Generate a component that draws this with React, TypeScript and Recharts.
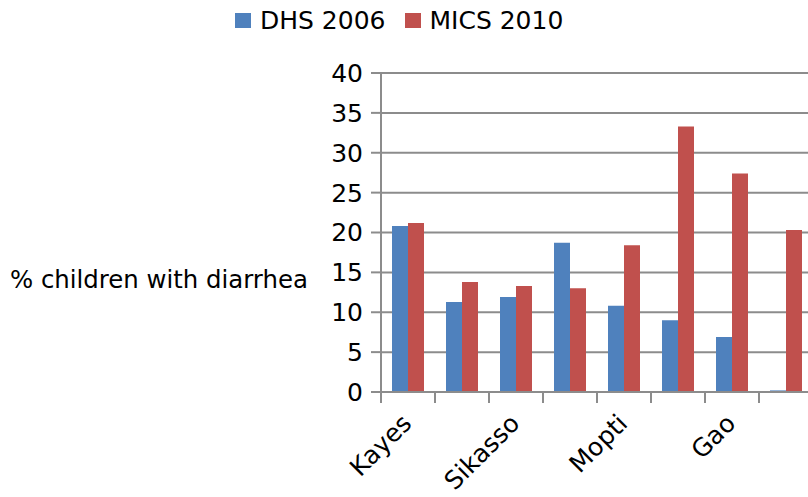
import React from 'react';
import { BarChart, Bar, XAxis, YAxis, CartesianGrid, Legend } from 'recharts';

// Regions of Mali, share of children with diarrhea by survey
const regions = ['Kayes', 'Koulikoro', 'Sikasso', 'Ségou', 'Mopti', 'Tombouctou', 'Gao', 'Kidal'];
const dhs2006 = [20.8, 11.3, 11.9, 18.7, 10.8, 9.0, 6.9, 0.2];
const mics2010 = [21.2, 13.8, 13.3, 13.0, 18.4, 33.3, 27.4, 20.3];
const yTicks = [0, 5, 10, 15, 20, 25, 30, 35, 40];
const seriesNames = ['DHS 2006', 'MICS 2010'];
const seriesColors = ['#4F81BD', '#C0504D'];
const yAxisTitle = '% children with diarrhea';

const data = regions.map((region, i) => ({
  region,
  dhs: dhs2006[i],
  mics: mics2010[i],
}));

const CHART_W = 840;
const CHART_H = 497;
const MARGIN = { top: 73, right: 27, bottom: 0, left: 0 };
const Y_AXIS_W = 381;
const X_AXIS_H = 105;
const BAND = (CHART_W - MARGIN.left - MARGIN.right - Y_AXIS_W) / regions.length;
const GRID = '#8c8c8c';
const FONT = "'DejaVu Sans', sans-serif";

const CategoryTick = (props: any) => {
  const { x, y, index, payload } = props;
  const left = x - BAND / 2;
  const right = x + BAND / 2;
  const lx = x + 5;
  const ly = y + 33;
  return (
    <g>
      <line x1={left} x2={left} y1={y} y2={y + 11} stroke={GRID} strokeWidth={2} />
      {index === regions.length - 1 && (
        <line x1={right} x2={right} y1={y} y2={y + 11} stroke={GRID} strokeWidth={2} />
      )}
      {index % 2 === 0 && (
        <text
          x={lx}
          y={ly}
          textAnchor="end"
          fontSize={25}
          fill="#000"
          transform={`rotate(-45 ${lx} ${ly})`}
        >
          {payload.value}
        </text>
      )}
    </g>
  );
};

const LegendContent = () => (
  <div style={{ display: 'flex', alignItems: 'center', fontFamily: FONT, fontSize: 25, lineHeight: '29px', color: '#000' }}>
    {seriesNames.map((name, i) => (
      <div key={name} style={{ display: 'flex', alignItems: 'center', marginRight: i === 0 ? 19 : 0 }}>
        <span style={{ display: 'inline-block', width: 16, height: 15, background: seriesColors[i], marginRight: 9 }} />
        <span>{name}</span>
      </div>
    ))}
  </div>
);

const YTitle = () => (
  <text x={10} y={288} fontSize={24.4} fill="#000" textAnchor="start">
    {yAxisTitle}
  </text>
);

export default function App() {
  return (
    <div
      style={{
        position: 'absolute',
        left: 0,
        top: 0,
        width: 808,
        height: 497,
        overflow: 'hidden',
        background: '#fff',
        fontFamily: FONT,
      }}
    >
      <BarChart
        width={CHART_W}
        height={CHART_H}
        data={data}
        margin={MARGIN}
        barGap={0}
        barSize={16}
      >
        <CartesianGrid horizontal vertical={false} stroke={GRID} strokeWidth={2} />
        <XAxis
          dataKey="region"
          interval={0}
          height={X_AXIS_H}
          tickLine={false}
          tickSize={0}
          tickMargin={0}
          axisLine={{ stroke: GRID, strokeWidth: 2 }}
          tick={<CategoryTick />}
        />
        <YAxis
          width={Y_AXIS_W}
          domain={[0, 40]}
          ticks={yTicks}
          interval={0}
          tickSize={10}
          tickMargin={8}
          tickLine={{ stroke: GRID, strokeWidth: 2 }}
          axisLine={{ stroke: GRID, strokeWidth: 2 }}
          tick={{ fontSize: 25, fill: '#000' }}
          label={<YTitle />}
        />
        <Legend
          verticalAlign="middle"
          align="center"
          layout="horizontal"
          wrapperStyle={{ top: 6, left: 235, width: 'auto' }}
          content={<LegendContent />}
        />
        <Bar dataKey="dhs" name={seriesNames[0]} fill={seriesColors[0]} isAnimationActive={false} />
        <Bar dataKey="mics" name={seriesNames[1]} fill={seriesColors[1]} isAnimationActive={false} />
      </BarChart>
    </div>
  );
}
